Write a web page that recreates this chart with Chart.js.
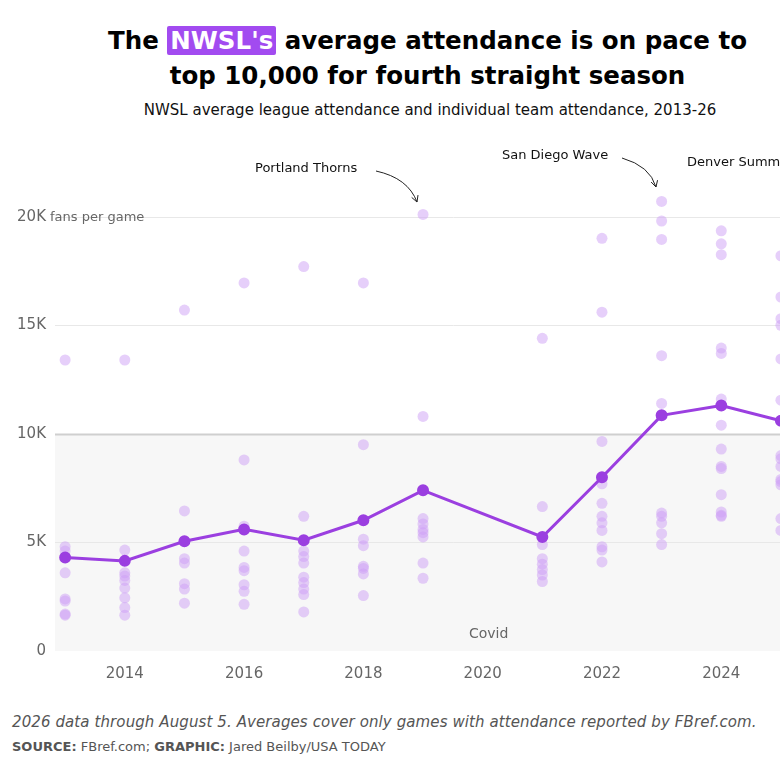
<!DOCTYPE html>
<html><head><meta charset="utf-8">
<script src="https://cdn.jsdelivr.net/npm/chart.js@4"></script>
<style>
html,body{margin:0;padding:0;width:780px;height:780px;overflow:hidden;background:#fff;font-family:"DejaVu Sans",sans-serif;}
#t{position:absolute;top:23px;left:0;width:855px;text-align:center;font:700 24.5px "DejaVu Sans",sans-serif;line-height:35px;color:#000;}
#t span{background:#a24bf0;color:#fff;padding:0 3px;border-radius:2px}
#s{position:absolute;top:101px;left:0;width:860px;text-align:center;font:15px "DejaVu Sans",sans-serif;color:#111;}
#cw{position:absolute;top:144px;left:0;width:860px;height:545px;}
#f1{position:absolute;top:713px;left:12px;font:italic 15px "DejaVu Sans",sans-serif;color:#555;white-space:nowrap;letter-spacing:0.1px}
#f2{position:absolute;top:739px;left:12px;font:13px "DejaVu Sans",sans-serif;color:#555;white-space:nowrap;}
</style></head><body>
<div id="t">The <span>NWSL's</span> average attendance is on pace to<br>top 10,000 for fourth straight season</div>
<div id="s">NWSL average league attendance and individual team attendance, 2013-26</div>
<div id="cw"><canvas id="c"></canvas></div>
<div id="f1">2026 data through August 5. Averages cover only games with attendance reported by FBref.com.</div>
<div id="f2"><b>SOURCE:</b> FBref.com; <b>GRAPHIC:</b> Jared Beilby/USA TODAY</div>
<script>
const years=[2013,2014,2015,2016,2017,2018,2019,2021,2022,2023,2024,2025];
const leagueAvg=[4300,4150,5050,5600,5100,6020,7400,5250,8000,10850,11300,10600];
const teams2013=[13400,4800,4600,3600,2400,2300,1700,1650];
const teams2014=[13400,4650,3600,3450,3250,2900,2450,2000,1650];
const teams2015=[15700,6450,4250,4050,3100,2850,2200];
const teams2016=[16950,8800,5750,4600,3850,3700,3050,2750,2150];
const teams2017=[17700,6200,4600,4350,4050,3400,3150,2850,2600,1800];
const teams2018=[16950,9500,5150,4850,3900,3800,3550,2550];
const teams2019=[20100,10800,6100,5850,5600,5450,5250,4050,3350];
const teams2021=[14400,6650,4900,4250,4000,3750,3500,3200];
const teams2022=[19000,15600,9650,8000,7700,6800,6200,5900,5550,4800,4650,4100];
const teams2023=[20700,19800,18950,13600,11400,6350,6200,5900,5400,4900];
const teams2024=[19350,18750,18250,13950,13700,11600,10400,9300,8500,8400,7200,6400,6250,6200];
const teams2025=[18200,16300,15300,15000,13450,11550,9000,8850,8500,7900,7800,7650,6100,5550];
const teamByYear=[teams2013,teams2014,teams2015,teams2016,teams2017,teams2018,teams2019,teams2021,teams2022,teams2023,teams2024,teams2025];
const xTicks=[2014,2016,2018,2020,2022,2024];
const yTicks=[0,5000,10000,15000,20000];
const yLabels=['0','5K','10K','15K','20K'];

const teamPts=[];
teamByYear.forEach((arr,i)=>arr.forEach(v=>teamPts.push({x:years[i],y:v})));
const linePts=years.map((y,i)=>({x:y,y:leagueAvg[i]}));

const deco={id:'deco',
 beforeDatasetsDraw(ch){
  const c=ch.ctx,a=ch.chartArea,x=ch.scales.x,y=ch.scales.y;
  c.save();
  c.fillStyle='#f7f7f7';
  c.fillRect(a.left,y.getPixelForValue(10000),a.right-a.left,y.getPixelForValue(0)-y.getPixelForValue(10000));
  yTicks.forEach(v=>{const py=Math.round(y.getPixelForValue(v))+0.5;
    c.strokeStyle=v===10000?'#cfcfcf':'#e8e8e8';c.lineWidth=v===10000?2:1;
    if(v>0){c.beginPath();c.moveTo(a.left,py);c.lineTo(a.right,py);c.stroke();}});
  c.fillStyle='#666';c.font='15px "DejaVu Sans",sans-serif';c.textAlign='right';c.textBaseline='middle';
  yTicks.forEach((v,i)=>{const py=y.getPixelForValue(v);c.fillText(yLabels[i],46,py);});
  c.textAlign='left';c.font='13px "DejaVu Sans",sans-serif';
  c.fillText('fans per game',50,y.getPixelForValue(20000)+1);
  c.fillStyle='#666';c.font='14px "DejaVu Sans",sans-serif';c.textAlign='center';c.textBaseline='alphabetic';
  c.fillText('Covid',x.getPixelForValue(2020.1),y.getPixelForValue(0)-13);
  c.fillStyle='#111';c.font='13px "DejaVu Sans",sans-serif';c.textAlign='left';c.textBaseline='middle';
  c.fillText('Portland Thorns',255,25);
  c.fillText('San Diego Wave',502,12);
  c.fillText('Denver Summit FC',687,19);
  c.strokeStyle='#222';c.lineWidth=1;
  const arrow=(x0,y0,cx,cy,x1,y1)=>{c.beginPath();c.moveTo(x0,y0);c.quadraticCurveTo(cx,cy,x1,y1);c.stroke();
    const ang=Math.atan2(y1-cy,x1-cx);c.beginPath();
    c.moveTo(x1-7*Math.cos(ang-0.5),y1-7*Math.sin(ang-0.5));c.lineTo(x1,y1);c.lineTo(x1-7*Math.cos(ang+0.5),y1-7*Math.sin(ang+0.5));c.stroke();};
  arrow(376,27,408,34,417,58);
  arrow(622,14,650,22,656,43);
  c.restore();
 }};

new Chart(document.getElementById('c'),{
 data:{datasets:[
  {type:'line',data:linePts,borderColor:'#9b3fe0',backgroundColor:'#9b3fe0',borderWidth:3,pointRadius:4.5,pointHoverRadius:4.5,order:1},
  {type:'scatter',data:teamPts,backgroundColor:'rgba(205,160,245,0.5)',borderWidth:0,pointRadius:5.5,order:2}
 ]},
 options:{responsive:true,maintainAspectRatio:false,animation:false,
  layout:{padding:{top:0,bottom:0,left:55,right:0}},
  plugins:{legend:{display:false},tooltip:{enabled:false}},
  scales:{
   x:{type:'linear',min:2012.83,max:2026.2,border:{display:false},grid:{display:false},
      afterBuildTicks:s=>{s.ticks=xTicks.map(v=>({value:v}));},
      ticks:{color:'#666',font:{size:15,family:'"DejaVu Sans",sans-serif'},padding:6,callback:v=>String(v)}},
   y:{min:0,max:23000,display:false}
  }}
 ,plugins:[deco]});
</script></body></html>
